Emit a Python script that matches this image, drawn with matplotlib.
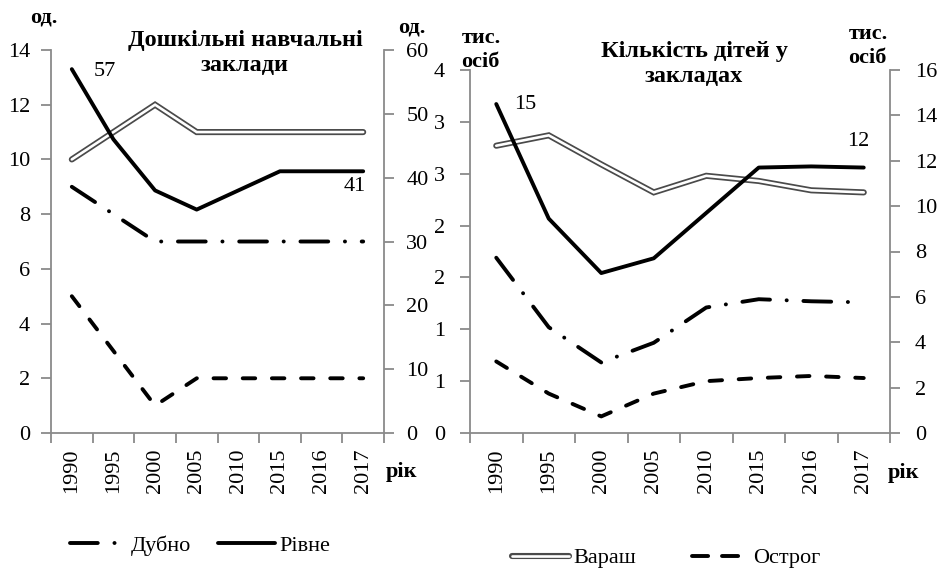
import matplotlib
matplotlib.use("Agg")
import matplotlib.pyplot as plt
from matplotlib.lines import Line2D
from matplotlib.legend_handler import HandlerTuple
import numpy as np

plt.rcParams['font.family'] = ['Liberation Serif', 'DejaVu Serif']
plt.rcParams['lines.scale_dashes'] = False

years = ["1990", "1995", "2000", "2005", "2010", "2015", "2016", "2017"]

# Left panel: pre-school institutions (units)
inst_varash = [10, 11, 12, 11, 11, 11, 11, 11]
inst_dubno = [9, 8, 7, 7, 7, 7, 7, 7]
inst_ostrog = [5, 3, 1, 2, 2, 2, 2, 2]
inst_rivne = [57, 46, 38, 35, 38, 41, 41, 41]   # right axis

# Right panel: number of children (thousand persons)
kids_varash = [2.77, 2.87, 2.59, 2.32, 2.48, 2.43, 2.34, 2.32]
kids_dubno = [1.69, 1.02, 0.68, 0.87, 1.21, 1.29, 1.27, 1.26]
kids_ostrog = [0.69, 0.38, 0.16, 0.38, 0.50, 0.53, 0.55, 0.53]
kids_rivne = [14.5, 9.45, 7.05, 7.7, 9.7, 11.7, 11.75, 11.7]  # right axis

left_yticks_l = [0, 2, 4, 6, 8, 10, 12, 14]
left_yticks_r = [0, 10, 20, 30, 40, 50, 60]
right_yticks_l = [0, 0.5, 1, 1.5, 2, 2.5, 3, 3.5]
right_yticklabels_l = ["0", "1", "1", "2", "2", "3", "3", "4"]
right_yticks_r = [0, 2, 4, 6, 8, 10, 12, 14, 16]

FS = 16
GREY = '#8a8a8a'
x = np.arange(len(years))

fig = plt.figure(figsize=(9.4, 5.76), dpi=100)
axL = fig.add_axes([51/940, 1-433/576, 333/940, 383/576])
axR = fig.add_axes([470/940, 1-433/576, 420/940, 363/576])

dashdot = dict(color='black', lw=2.8, dashes=(20, 12, 0.1, 12), dash_capstyle='round')
dashed = dict(color='black', lw=2.8, dashes=(9, 12), dash_capstyle='round')
solid = dict(color='black', lw=2.8, solid_capstyle='round')


def double(ax, xs, ys):
    ax.plot(xs, ys, color='#4a4a4a', lw=4.4, solid_capstyle='round', solid_joinstyle='miter')
    ax.plot(xs, ys, color='white', lw=1.9, solid_capstyle='round', solid_joinstyle='miter')


def style_axes(ax, ax2):
    for a in (ax, ax2):
        a.spines['top'].set_visible(False)
        for s in ('left', 'right', 'bottom'):
            a.spines[s].set_color(GREY)
            a.spines[s].set_linewidth(1.3)
    ax.spines['right'].set_visible(False)
    ax2.spines['left'].set_visible(False)
    ax2.spines['bottom'].set_visible(False)
    ax.set_xlim(-0.5, len(years) - 0.5)
    ax.set_xticks(np.arange(-0.5, len(years)), labels=[''] * (len(years) + 1))
    ax.set_xticks(x, labels=years, minor=True, rotation=90)
    ax.tick_params(axis='x', which='major', length=7, width=1.3, color=GREY, direction='out')
    ax.tick_params(axis='x', which='minor', length=0, pad=11, labelsize=FS)
    ax.tick_params(axis='y', length=7, width=1.3, color=GREY, pad=8, labelsize=FS)
    ax2.tick_params(axis='y', length=7, width=1.3, color=GREY, pad=9, labelsize=FS)


# ---- left panel
axL2 = axL.twinx()
double(axL, x, inst_varash)
axL.plot(x, inst_dubno, **dashdot)
axL.plot(x, inst_ostrog, **dashed)
axL2.plot(x, inst_rivne, **solid)
axL.set_ylim(0, 14)
axL.set_yticks(left_yticks_l)
axL2.set_ylim(0, 60)
axL2.set_yticks(left_yticks_r)
style_axes(axL, axL2)
axL2.annotate(str(inst_rivne[0]), (x[0], inst_rivne[0]), xytext=(16, -2),
              textcoords='offset points', fontsize=FS, ha='left', va='center')
axL2.annotate(str(inst_rivne[-1]), (x[-1], inst_rivne[-1]), xytext=(-6, -11),
              textcoords='offset points', fontsize=FS, ha='center', va='center')

# ---- right panel
axR2 = axR.twinx()
double(axR, x, kids_varash)
axR.plot(x, kids_dubno, **dashdot)
axR.plot(x, kids_ostrog, **dashed)
axR2.plot(x, kids_rivne, **solid)
axR.set_ylim(0, 3.5)
axR.set_yticks(right_yticks_l, labels=right_yticklabels_l)
axR2.set_ylim(0, 16)
axR2.set_yticks(right_yticks_r)
style_axes(axR, axR2)
axR.tick_params(axis='y', pad=11)
axR2.tick_params(axis='y', pad=11)
axR2.annotate("15", (x[0], kids_rivne[0]), xytext=(13, 0),
              textcoords='offset points', fontsize=FS, ha='left', va='center')
axR2.annotate("12", (x[-1], kids_rivne[-1]), xytext=(-4, 18.5),
              textcoords='offset points', fontsize=FS, ha='center', va='center')

# ---- texts
bold = dict(fontweight='bold', fontsize=FS)
tbold = dict(fontweight='bold', fontsize=17.5)
fig.text(44/940, 1-17/576, "од.", ha='center', va='center', **bold)
fig.text(412/940, 1-27/576, "од.", ha='center', va='center', **bold)
fig.text(245/940, 1-53/576, "Дошкільні навчальні\nзаклади", ha='center', va='center',
         multialignment='center', linespacing=1.3, **tbold)
fig.text(481/940, 1-50/576, "тис.\nосіб", ha='center', va='center',
         multialignment='left', linespacing=1.25, **bold)
fig.text(868/940, 1-46/576, "тис.\nосіб", ha='center', va='center',
         multialignment='left', linespacing=1.25, **bold)
fig.text(694/940, 1-64/576, "Кількість дітей у\nзакладах", ha='center', va='center',
         multialignment='center', linespacing=1.3, **tbold)
fig.text(402/940, 1-472/576, "рік", ha='center', va='center', **bold)
fig.text(903/940, 1-473/576, "рік", ha='center', va='center', **bold)

# ---- legends (one entry each, placed at the handle start)
h_dubno = Line2D([], [], **dashdot)
h_rivne = Line2D([], [], **solid)
h_var_o = Line2D([], [], color='#4a4a4a', lw=4.4, solid_capstyle='round')
h_var_i = Line2D([], [], color='white', lw=1.9, solid_capstyle='round')
h_ostrog = Line2D([], [], color='black', lw=2.8, dashes=(11.6, 10), dash_capstyle='round')

entries = [
    (h_dubno, "Дубно", 70, 546),
    (h_rivne, "Рівне", 218, 546),
    ((h_var_o, h_var_i), "Вараш", 512, 558),
    (h_ostrog, "Острог", 692, 558),
]
for h, lab, px, py in entries:
    fig.legend([h], [lab], loc='center left', bbox_to_anchor=(px/940, 1-py/576),
               frameon=False, fontsize=FS, handlelength=2.55, handletextpad=0.2,
               borderpad=0, borderaxespad=0,
               handler_map={tuple: HandlerTuple(ndivide=1)})

fig.savefig("out.png", dpi=100)
